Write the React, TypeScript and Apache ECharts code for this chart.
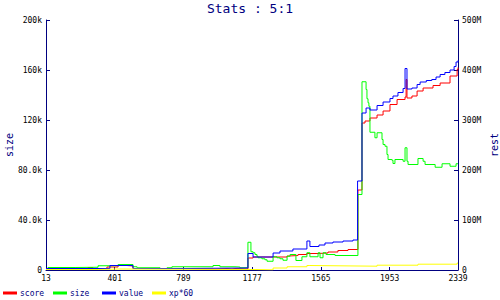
import React, { useEffect, useRef } from "react";
import * as echarts from "echarts";

const NAVY = "#000080";
const FONT = "DejaVu Sans Mono";

const xTicks = [13, 401, 789, 1177, 1565, 1953, 2339];
const leftTickLabels: Record<number, string> = { 0: "0", 40000: "40.0k", 80000: "80.0k", 120000: "120k", 160000: "160k", 200000: "200k" };
const rightTickLabels: Record<number, string> = { 0: "0", 100: "100M", 200: "200M", 300: "300M", 400: "400M", 500: "500M" };

// score (right axis, millions)
const scoreData: [number, number][] = [
  [13, 3], [250, 5], [278, 3], [357, 6], [420, 9], [448, 9], [470, 8], [504, 3], [826, 2], [967, 3],
  [1035, 2], [1063, 3], [1080, 2], [1153, 24], [1182, 26], [1374, 28], [1385, 29], [1436, 31],
  [1486, 33], [1549, 34], [1605, 36], [1661, 39], [1718, 41], [1774, 160], [1797, 294], [1814, 298],
  [1842, 304], [1882, 310], [1916, 318], [1955, 331], [1995, 341], [2040, 346], [2046, 381], [2051, 344],
  [2079, 348], [2108, 358], [2142, 364], [2198, 369], [2238, 374], [2294, 388], [2334, 401], [2339, 405],
];

// size (left axis, thousands)
const sizeData: [number, number][] = [
  [13, 1.2], [24, 2], [177, 2.2], [307, 3.4], [420, 4.4], [504, 2.6], [527, 1.8], [657, 1.2], [696, 1.8],
  [724, 2.6], [956, 3.6], [995, 2.6], [1080, 2.4], [1108, 1.8], [1153, 22.2], [1170, 14.6], [1182, 13.8],
  [1193, 12.4], [1204, 11], [1210, 9.8], [1232, 9], [1249, 8.2], [1261, 7], [1295, 10.6], [1317, 9.8],
  [1334, 9], [1351, 7.8], [1374, 11], [1391, 12.4], [1424, 7.6], [1458, 10.6], [1486, 13.8], [1503, 10.6],
  [1549, 13.8], [1560, 9.8], [1577, 13.8], [1594, 12.4], [1645, 11.6], [1774, 60.4], [1797, 150.6],
  [1820, 144.4], [1825, 137], [1831, 133.8], [1836, 131], [1842, 110.2], [1870, 105.8], [1882, 109.8],
  [1910, 104.4], [1916, 100.4], [1927, 99], [1938, 92.4], [1944, 88.4], [1966, 87.8], [1972, 85.2],
  [1983, 88.4], [2029, 87], [2040, 97.8], [2051, 87], [2057, 84.4], [2113, 89.2], [2142, 87], [2153, 84.4],
  [2210, 82.2], [2249, 85], [2294, 83], [2328, 85], [2339, 85],
];

// value (right axis, millions)
const valueData: [number, number][] = [
  [13, 3], [374, 9], [504, 3], [798, 4], [1153, 33], [1182, 26], [1295, 34], [1334, 38], [1407, 42],
  [1486, 58], [1503, 47], [1554, 50], [1588, 54], [1633, 56], [1690, 58], [1746, 60], [1772, 178],
  [1797, 314], [1820, 324], [1842, 320], [1882, 329], [1916, 336], [1955, 343], [1972, 348], [2000, 355],
  [2029, 363], [2040, 403], [2051, 362], [2079, 364], [2108, 371], [2125, 376], [2160, 379], [2191, 381],
  [2215, 386], [2238, 391], [2265, 395], [2294, 400], [2317, 407], [2328, 416], [2339, 419],
];

// xp*60 (right axis, millions)
const xpData: [number, number][] = [
  [13, 1], [307, 2], [420, 1], [1193, 0.3], [1295, 4], [1374, 6.5], [1486, 9], [1503, 7.6],
  [1882, 9.6], [2113, 11.6], [2334, 14], [2339, 14],
];

const seriesNames = ["score", "size", "value", "xp*60"];
const seriesColors = ["#ff0000", "#00ff00", "#0000ff", "#ffff00"];
const legendLefts = [3, 53, 102, 152];

export default function App() {
  const ref = useRef<HTMLDivElement>(null);
  useEffect(() => {
    if (!ref.current) return;
    const chart = echarts.init(ref.current, null, { renderer: "svg" });
    const datasets = [scoreData, sizeData, valueData, xpData];
    const axisIdx = [1, 0, 1, 1];
    chart.setOption({
      animation: false,
      backgroundColor: "#ffffff",
      title: {
        text: "Stats : 5:1",
        left: "center",
        top: 0,
        padding: [2, 5, 5, 5],
        textStyle: { color: NAVY, fontSize: 13, fontWeight: "normal", fontFamily: FONT },
      },
      legend: seriesNames.map((n, i) => ({
        data: [n],
        left: legendLefts[i],
        top: 289,
        padding: 0,
        itemWidth: 14,
        itemHeight: 3,
        icon: "rect",
        textStyle: { color: NAVY, fontSize: 8, fontFamily: FONT, padding: [0, 0, 0, -2] },
      })),
      grid: { left: 46, right: 42, top: 20, bottom: 30, containLabel: false, outerBoundsMode: "none" },
      xAxis: {
        type: "value",
        min: 13,
        max: 2339,
        axisLine: { show: true, lineStyle: { color: NAVY, width: 1 } },
        axisTick: { show: true, inside: true, length: 3, customValues: xTicks, lineStyle: { color: NAVY } },
        axisLabel: {
          customValues: xTicks,
          color: "#000",
          fontSize: 8,
          fontFamily: FONT,
          margin: 4,
          formatter: (v: number) => String(v),
        },
        splitLine: { show: false },
      },
      yAxis: [
        {
          type: "value",
          position: "left",
          min: 0,
          max: 200000,
          interval: 40000,
          name: "size",
          nameLocation: "middle",
          nameRotate: 90,
          nameGap: 32,
          nameMoveOverlap: false,
          nameTextStyle: { color: NAVY, fontSize: 10, fontFamily: FONT },
          axisLine: { show: true, lineStyle: { color: NAVY, width: 1 } },
          axisTick: { show: true, inside: true, length: 4, lineStyle: { color: NAVY } },
          axisLabel: {
            color: "#000",
            fontSize: 8,
            fontFamily: FONT,
            margin: 4,
            formatter: (v: number) => leftTickLabels[v] ?? String(v),
          },
          splitLine: { show: false },
        },
        {
          type: "value",
          position: "right",
          min: 0,
          max: 500,
          interval: 100,
          name: "rest",
          nameLocation: "middle",
          nameRotate: 90,
          nameGap: 31,
          nameMoveOverlap: false,
          nameTextStyle: { color: NAVY, fontSize: 10, fontFamily: FONT },
          axisLine: { show: true, lineStyle: { color: NAVY, width: 1 } },
          axisTick: { show: true, inside: true, length: 4, lineStyle: { color: NAVY } },
          axisLabel: {
            color: "#000",
            fontSize: 8,
            fontFamily: FONT,
            margin: 4,
            formatter: (v: number) => rightTickLabels[v] ?? String(v),
          },
          splitLine: { show: false },
        },
      ],
      series: seriesNames.map((n, i) => ({
        name: n,
        type: "line",
        step: "end",
        yAxisIndex: axisIdx[i],
        data: i === 1 ? sizeData.map(([x, y]) => [x, y * 1000]) : datasets[i],
        showSymbol: false,
        symbol: "none",
        color: seriesColors[i],
        lineStyle: { color: seriesColors[i], width: 1 },
      })),
    });
    return () => chart.dispose();
  }, []);
  return <div ref={ref} style={{ width: 500, height: 300, position: "absolute", left: 0, top: 0 }} />;
}
